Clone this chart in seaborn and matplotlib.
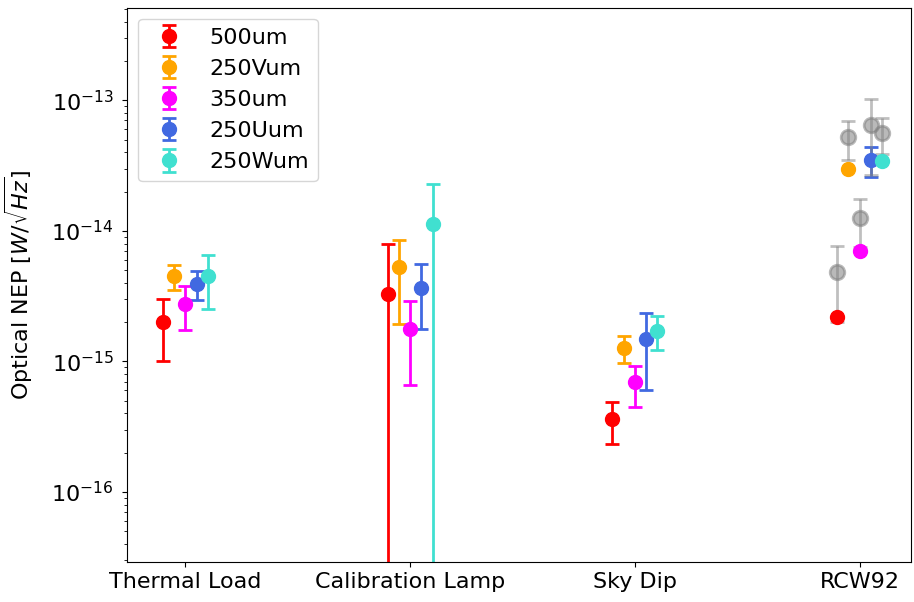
import numpy as np
import pandas as pd
import matplotlib
matplotlib.use("Agg")
import matplotlib.pyplot as plt
import matplotlib.ticker as mticker
import seaborn as sns

# Measurement conditions along the x axis
conditions = ["Thermal Load", "Calibration Lamp", "Sky Dip", "RCW92"]

# Optical NEP per array [W/sqrt(Hz)] and its 1-sigma uncertainty (nan = no bar)
series_names = ["500um", "250Vum", "350um", "250Uum", "250Wum"]
series_colors = ["red", "orange", "magenta", "royalblue", "turquoise"]

nep_500 = [2.0e-15, 3.3e-15, 3.6e-16, 2.18e-15]
err_500 = [1.0e-15, 4.6e-15, 1.25e-16, np.nan]

nep_250v = [4.5e-15, 5.25e-15, 1.27e-15, 2.96e-14]
err_250v = [1.0e-15, 3.3e-15, 0.3e-15, np.nan]

nep_350 = [2.75e-15, 1.78e-15, 6.9e-16, 6.95e-15]
err_350 = [1.0e-15, 1.12e-15, 2.4e-16, np.nan]

nep_250u = [3.95e-15, 3.67e-15, 1.48e-15, 3.49e-14]
err_250u = [1.0e-15, 1.9e-15, 0.88e-15, 0.9e-14]

nep_250w = [4.5e-15, 1.12e-14, 1.72e-15, 3.43e-14]
err_250w = [2.0e-15, 1.17e-14, 0.5e-15, np.nan]

# Reference values at RCW92, one per array
ref_nep = [4.8e-15, 5.2e-14, 1.25e-14, 6.45e-14, 5.6e-14]
ref_err = [2.8e-15, 1.7e-14, 0.5e-14, 3.75e-14, 1.7e-14]

# Major y ticks (decades)
y_major = [1e-16, 1e-15, 1e-14, 1e-13]

offsets = [-0.1, -0.05, 0.0, 0.05, 0.1]

sns.set_style("ticks", rc={
    "axes.edgecolor": "black",
    "xtick.color": "black",
    "ytick.color": "black",
    "text.color": "black",
    "axes.labelcolor": "black",
    "axes.linewidth": 1.0,
})
plt.rcParams["font.family"] = ["DejaVu Sans"]
plt.rcParams["mathtext.fontset"] = "dejavusans"

FS = 16

fig = plt.figure(figsize=(9.14, 6.02), dpi=100)
ax = fig.add_axes([0.139, 0.066, 0.858, 0.921])

values = [nep_500, nep_250v, nep_350, nep_250u, nep_250w]
errors = [err_500, err_250v, err_350, err_250u, err_250w]
xpos = np.arange(len(conditions))

for name, color, off, v, e in zip(series_names, series_colors, offsets, values, errors):
    ax.errorbar(xpos + off, v, yerr=e, fmt="o", color=color, ms=10,
                elinewidth=2, capsize=5, capthick=2, label=name)

# Reference points at RCW92, translucent grey
ref_df = pd.DataFrame({
    "x": len(conditions) - 1 + np.array(offsets),
    "nep": ref_nep,
    "err": ref_err,
})
ax.errorbar(ref_df["x"], ref_df["nep"], yerr=ref_df["err"], fmt="none",
            ecolor="gray", elinewidth=2, capsize=5, capthick=2, alpha=0.5)
sns.scatterplot(data=ref_df, x="x", y="nep", ax=ax, color="gray", alpha=0.55,
                s=110, edgecolor="gray", linewidth=2, legend=False, zorder=3)

ax.set_yscale("log")
ax.set_ylim(2.9e-17, 5.1e-13)
ax.yaxis.set_major_locator(mticker.FixedLocator(y_major))
ax.yaxis.set_minor_locator(mticker.LogLocator(base=10, subs=np.arange(2, 10), numticks=20))
ax.yaxis.set_minor_formatter(mticker.NullFormatter())
ax.set_xlim(-0.26, 3.23)
ax.set_xticks(xpos)
ax.set_xticklabels(conditions, fontsize=FS)
ax.tick_params(axis="y", labelsize=FS, pad=6)
ax.set_xlabel("")
ax.set_ylabel(r"Optical NEP [$W/\sqrt{Hz}$]", fontsize=FS)
ax.yaxis.set_label_coords(-0.117, 0.5)

for side in ["top", "right", "left", "bottom"]:
    ax.spines[side].set_visible(True)

ax.legend(loc="upper left", fontsize=FS, frameon=True,
          framealpha=0.8, edgecolor="0.8", fancybox=True)

fig.savefig("out.png", dpi=100)
